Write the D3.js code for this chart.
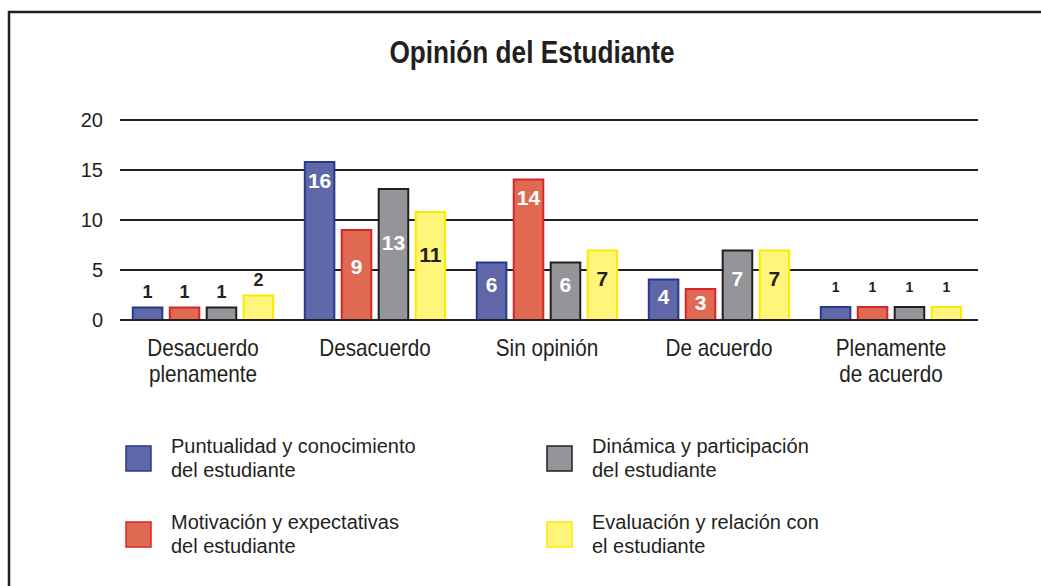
<!DOCTYPE html>
<html lang="es">
<head>
<meta charset="UTF-8">
<title>Opinión del Estudiante</title>
<script src="https://cdnjs.cloudflare.com/ajax/libs/d3/7.8.5/d3.min.js"></script>
<style>
    body { margin: 0; background: #fff; }
    svg { display: block; font-family: 'Liberation Sans', Arial, Helvetica, sans-serif; }
</style>
</head>
<body>
<div id="chart"></div>

<script>

    // Categories on the x axis, and how they are broken over two lines
    const categories = ['Desacuerdo plenamente', 'Desacuerdo', 'Sin opinión', 'De acuerdo', 'Plenamente de acuerdo'];
    const categoryLines = [['Desacuerdo', 'plenamente'], ['Desacuerdo'], ['Sin opinión'], ['De acuerdo'], ['Plenamente', 'de acuerdo']];

    // Series keys and legend text
    const seriesKeys = ['puntualidad', 'motivacion', 'dinamica', 'evaluacion'];
    const legendLines = [
        ['Puntualidad y conocimiento', 'del estudiante'],
        ['Motivación y expectativas', 'del estudiante'],
        ['Dinámica y participación', 'del estudiante'],
        ['Evaluación y relación con', 'el estudiante']
    ];

    // Counts printed on the bars
    const puntualidad = [1, 16, 6, 4, 1];
    const motivacion  = [1, 9, 14, 3, 1];
    const dinamica    = [1, 13, 6, 7, 1];
    const evaluacion  = [2, 11, 7, 7, 1];

    // Bar heights as they are drawn in the original (small bars are drawn a little taller)
    const puntualidadBars = [1.35, 15.9, 5.85, 4.15, 1.4];
    const motivacionBars  = [1.35, 9.1, 14.15, 3.2, 1.4];
    const dinamicaBars    = [1.35, 13.2, 5.85, 7.05, 1.4];
    const evaluacionBars  = [2.55, 10.9, 7.05, 7.05, 1.4];

    const yTicks = [0, 5, 10, 15, 20];

    const counts = [puntualidad, motivacion, dinamica, evaluacion];
    const heights = [puntualidadBars, motivacionBars, dinamicaBars, evaluacionBars];

    // Colours: fill, outline, label colour
    const fills   = ['#5f67a8', '#e06a51', '#939598', '#fff57b'];
    const strokes = ['#27398f', '#d7262b', '#231f20', '#fde800'];
    const labelColours = ['#fff', '#fff', '#fff', '#231f20'];
    const ink = '#231f20';

    const width = 1041;
    const height = 586;

    const svg = d3.select('#chart')
        .append('svg')
        .attr('width', width)
        .attr('height', height);

    // Frame (only top and left edges are visible in the original)
    svg.append('path')
        .attr('d', `M9,${height} V12 H${width}`)
        .attr('fill', 'none')
        .attr('stroke', ink)
        .attr('stroke-width', 2.5);

    // Title, squeezed sideways to get the condensed look
    svg.append('text')
        .attr('transform', 'translate(532,63) scale(0.845,1)')
        .attr('text-anchor', 'middle')
        .attr('font-weight', 'bold')
        .attr('font-size', 31)
        .attr('fill', ink)
        .text('Opinión del Estudiante');

    const x0 = d3.scaleBand()
        .domain(categories)
        .range([117, 977])
        .paddingInner(0.172)
        .paddingOuter(0.086);

    const x1 = d3.scaleBand()
        .domain(seriesKeys)
        .range([0, x0.bandwidth()])
        .paddingInner(0.146);

    const y = d3.scaleLinear()
        .domain([0, 20])
        .range([320, 120]);

    // Grid lines and tick labels
    const grid = svg.append('g');
    grid.selectAll('line')
        .data(yTicks.filter(t => t > 0))
        .join('line')
        .attr('x1', 120)
        .attr('x2', 978)
        .attr('y1', d => y(d))
        .attr('y2', d => y(d))
        .attr('stroke', ink)
        .attr('stroke-width', 2);

    grid.selectAll('text')
        .data(yTicks)
        .join('text')
        .attr('x', 103)
        .attr('y', d => y(d) + 7)
        .attr('text-anchor', 'end')
        .attr('font-size', 20)
        .attr('fill', ink)
        .text(d => d);

    // Bars
    const barData = [];
    categories.forEach((c, ci) => {
        seriesKeys.forEach((k, si) => {
            barData.push({ cat: c, ci: ci, key: k, si: si, count: counts[si][ci], h: heights[si][ci] });
        });
    });

    const bars = svg.append('g')
        .selectAll('g')
        .data(barData)
        .join('g')
        .attr('transform', d => `translate(${x0(d.cat) + x1(d.key)},0)`);

    bars.append('rect')
        .attr('x', 1)
        .attr('y', d => y(d.h) + 1)
        .attr('width', x1.bandwidth() - 2)
        .attr('height', d => y(0) - y(d.h) - 1)
        .attr('fill', d => fills[d.si])
        .attr('stroke', d => strokes[d.si])
        .attr('stroke-width', 2);

    // Value labels: small counts above the bar, the rest inside
    const lastCat = categories.length - 1;
    bars.append('text')
        .attr('x', x1.bandwidth() / 2)
        .attr('y', d => {
            if (d.count <= 2) return y(d.h) - (d.ci === lastCat ? 14 : 9);
            if (d.count >= 14) return y(d.h) + 19 + 7.5;
            return y(d.count * 0.6) + 7.5;
        })
        .attr('text-anchor', 'middle')
        .attr('font-weight', 'bold')
        .attr('font-size', d => d.count <= 2 ? (d.ci === lastCat ? 14 : 18) : 21)
        .attr('fill', d => d.count <= 2 ? ink : labelColours[d.si])
        .text(d => d.count);

    // Base line over the bars
    svg.append('line')
        .attr('x1', 120)
        .attr('x2', 978)
        .attr('y1', y(0))
        .attr('y2', y(0))
        .attr('stroke', ink)
        .attr('stroke-width', 2);

    // Category labels (condensed look)
    const catLabels = svg.append('g')
        .selectAll('text')
        .data(categories)
        .join('text')
        .attr('transform', d => `translate(${x0(d) + x0.bandwidth() / 2},356) scale(0.9,1)`)
        .attr('text-anchor', 'middle')
        .attr('font-size', 23)
        .attr('fill', ink);

    catLabels.selectAll('tspan')
        .data((d, i) => categoryLines[i])
        .join('tspan')
        .attr('x', 0)
        .attr('dy', (d, i) => i === 0 ? 0 : 26)
        .text(d => d);

    // Legend: two columns, two rows
    const legendX = [125, 125, 546, 546];
    const legendY = [445, 521, 445, 521];

    const legend = svg.append('g')
        .selectAll('g')
        .data(seriesKeys)
        .join('g')
        .attr('transform', (d, i) => `translate(${legendX[i]},${legendY[i]})`);

    legend.append('rect')
        .attr('x', 1)
        .attr('y', 1)
        .attr('width', 25)
        .attr('height', 25)
        .attr('fill', (d, i) => fills[i])
        .attr('stroke', (d, i) => strokes[i])
        .attr('stroke-width', 1.5);

    legend.append('text')
        .attr('x', 46)
        .attr('y', 8)
        .attr('font-size', 20)
        .attr('fill', ink)
        .selectAll('tspan')
        .data((d, i) => legendLines[i])
        .join('tspan')
        .attr('x', 46)
        .attr('dy', (d, i) => i === 0 ? 0 : 24)
        .text(d => d);

</script>
</body>
</html>
